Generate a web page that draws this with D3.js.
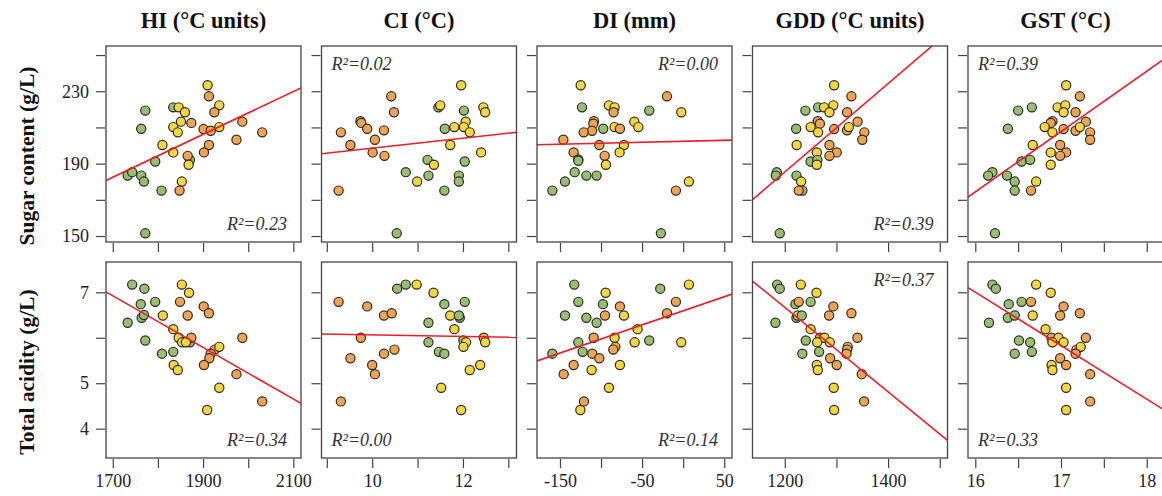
<!DOCTYPE html>
<html>
<head>
<meta charset="utf-8">
<title>Sugar and acidity vs climate indices</title>
<script src="https://cdnjs.cloudflare.com/ajax/libs/d3/7.8.5/d3.min.js"></script>
<style>
body{margin:0;background:#fff}
text{font-family:"Liberation Serif","Times New Roman",serif}
</style>
</head>
<body>
<svg id="chart" width="1162" height="496"></svg>
<script>
// column / row descriptions
var colTitles = ["HI (\u00B0C units)", "CI (\u00B0C)", "DI (mm)", "GDD (\u00B0C units)", "GST (\u00B0C)"]
var rowTitles = ["Sugar content (g/L)", "Total acidity (g/L)"]

var xDomains = [[1685, 2117], [8.883, 13.18], [-178, 59.5], [1137.5, 1515], [15.915, 18.19]]
var xTicks = [[1700, 1800, 1900, 2000, 2100], [9, 10, 11, 12, 13], [-150, -100, -50, 0, 50], [1200, 1300, 1400, 1500], [16, 16.5, 17, 17.5, 18]]
var xTickLabels = [[1700, 1900, 2100], [10, 12], [-150, -50, 50], [1200, 1400], [16, 17, 18]]

var yDomains = [[146.7, 255], [3.355, 7.667]]
var yTicks = [[150, 170, 190, 210, 230, 250], [4, 5, 6, 7]]
var yTickLabels = [[150, 190, 230], [4, 5, 7]]

// group 0 = green, 1 = yellow, 2 = orange
var groupColors = ["#97bf6f", "#f6d640", "#f0a452"]

// [x, y, group]
var hiSugar = [[1910,233.3,1],[1913,227.2,2],[1936,222.2,1],[1834,221.1,0],[1846,221.1,1],[1860,218.4,1],[1925,218.4,2],[1772,219.3,0],[1851,213.2,1],[1874,212.5,2],[1987,213.2,2],[1763,209.3,0],[1834,210.2,1],[1844,207.3,1],[1901,209.1,2],[1917,208.2,2],[1936,210.2,1],[2031,207.3,2],[1974,203.2,2],[1810,200.3,1],[1913,200.3,2],[1834,196.2,1],[1902,196.2,2],[1871,192.1,0],[1866,194.3,2],[1794,191.2,0],[1868,189.4,1],[1733,183.4,0],[1743,185.3,0],[1763,183.4,0],[1769,180.1,0],[1853,180.1,1],[1808,175.1,0],[1848,175.1,2],[1772,151.5,0]]
var ciSugar = [[11.96,233.3,1],[10.42,227.2,2],[11.46,221.1,0],[11.50,222.2,1],[12.45,221.1,1],[12.49,218.4,1],[12.02,219.3,0],[10.48,218.4,2],[9.74,213.4,2],[9.76,212.5,2],[12.06,213.2,1],[9.89,209.3,2],[10.26,208.4,2],[9.31,207.3,2],[11.60,209.3,0],[11.81,210.2,1],[12.02,210.2,1],[12.15,207.3,1],[10.06,203.2,2],[9.52,200.3,2],[11.72,200.3,1],[10.01,196.2,2],[12.40,196.2,1],[10.27,194.3,2],[11.22,192.1,0],[12.04,191.2,0],[11.36,189.4,1],[10.74,185.3,0],[11.24,183.4,0],[11.91,183.4,0],[10.99,180.1,1],[11.91,180.1,0],[9.26,175.1,2],[11.59,175.1,0],[10.54,151.5,0]]
var diSugar = [[-124.8,233.3,1],[-19.7,227.2,2],[-123.2,221.1,0],[-90.4,222.2,1],[-83.5,221.1,1],[-84.7,218.4,2],[-41.3,219.3,0],[-2.3,218.4,1],[-108.6,213.4,2],[-109.4,212.1,2],[-59.5,213.2,1],[-54.6,210.2,1],[-97.3,209.3,0],[-83.5,210.2,1],[-77,209.3,2],[-111,208.2,2],[-121.2,207.3,2],[-145.9,203.2,2],[-102.1,200.3,2],[-72.1,200.3,1],[-133.4,196.2,2],[-77.4,196.2,1],[-95.6,194.3,2],[-127.7,192.3,0],[-127.7,191.6,0],[-94,189.4,1],[-132.1,185.3,0],[-117.9,183.4,0],[-105.4,183.4,0],[-143.9,180.1,0],[7,180.1,1],[-159.3,175.1,0],[-8.8,175.1,2],[-27.1,151.5,0]]
var gddSugar = [[1295.5,233.3,1],[1329,227.2,2],[1294,222.2,1],[1264.5,221.1,0],[1276,221.1,1],[1286.5,218.4,1],[1240,219.3,0],[1320.6,218.4,2],[1264,213.2,1],[1264,213.4,2],[1268,212.1,2],[1341,213.2,2],[1222,209.3,0],[1250,210.2,1],[1264.5,207.3,1],[1295.5,209.1,2],[1320.6,208.4,2],[1324,210.2,1],[1354,207.3,2],[1350,203.2,2],[1223,200.3,1],[1286.5,200.3,2],[1262,196.2,1],[1300.6,196.2,2],[1286.5,194.3,2],[1250,191.2,0],[1263,192.1,0],[1262,189.4,1],[1184.5,185.3,0],[1182.6,183.4,0],[1222.6,183.4,0],[1231.6,180.1,1],[1234,175.1,0],[1227,175.1,2],[1190.3,151.5,0]]
var gstSugar = [[17.06,233.3,1],[17.22,227.2,2],[16.96,221.1,1],[17.05,222.2,1],[16.66,221.1,0],[16.50,219.3,0],[17.03,218.4,1],[17.17,218.4,2],[16.90,213.4,2],[16.88,212.5,2],[17.29,213.2,2],[16.38,209.3,0],[16.81,210.2,1],[16.90,207.3,1],[17.03,209.1,2],[17.17,208.2,2],[17.22,210.2,1],[17.34,207.3,2],[17.34,203.2,2],[16.67,200.3,1],[16.99,200.3,2],[16.88,196.2,1],[17.06,196.2,2],[16.99,194.3,2],[16.54,191.2,0],[16.64,192.1,0],[16.88,189.4,1],[16.20,185.3,0],[16.15,183.4,0],[16.37,183.4,0],[16.71,180.1,1],[16.46,180.1,0],[16.46,175.1,0],[16.65,175.1,2],[16.23,151.5,0]]

var hiAcid = [[1743,7.17,0],[1770,7.08,0],[1853,7.17,1],[1869,6.99,1],[1762,6.74,0],[1794,6.79,0],[1849,6.79,2],[1901.5,6.69,2],[1913,6.54,2],[1733,6.33,0],[1764,6.44,0],[1769,6.50,0],[1811,6.49,1],[1866,6.49,2],[1834,6.19,1],[1871,5.90,0],[1846,6.00,1],[1874,6.00,2],[1853.5,5.90,1],[1862,5.90,1],[1987,6.00,2],[1772,5.94,0],[1809,5.65,0],[1834,5.69,0],[1926,5.74,2],[1936,5.80,1],[1917,5.65,2],[1914,5.55,2],[1902,5.40,2],[1835,5.40,1],[1844,5.29,1],[1974,5.20,2],[1936,4.90,1],[2031,4.60,2],[1909,4.41,1]]
var ciAcid = [[10.55,7.08,0],[10.74,7.17,0],[10.98,7.17,1],[11.35,6.99,1],[9.26,6.79,2],[9.89,6.69,2],[10.26,6.49,2],[10.43,6.54,2],[11.59,6.74,0],[12.04,6.79,0],[11.72,6.49,1],[11.93,6.44,0],[11.91,6.49,0],[11.24,6.33,0],[11.81,6.19,1],[9.75,6.00,2],[11.24,5.90,0],[12.01,5.94,0],[12.07,5.90,1],[12.01,5.80,1],[12.46,6.00,2],[12.49,5.90,1],[9.52,5.55,2],[10.26,5.65,2],[10.49,5.74,2],[11.47,5.69,0],[11.59,5.65,0],[10.00,5.40,2],[10.06,5.20,2],[12.15,5.29,1],[12.38,5.40,1],[11.52,4.90,1],[9.31,4.60,2],[11.96,4.41,1]]
var diAcid = [[-132.6,7.17,0],[-94.4,6.99,1],[-27.9,7.08,0],[7,7.17,1],[-127.7,6.79,0],[-97.7,6.74,0],[-77,6.69,2],[-8.8,6.79,2],[-143.9,6.49,0],[-117.9,6.44,0],[-95.2,6.49,2],[-72.1,6.49,1],[-19.7,6.54,2],[-105.4,6.33,0],[-55.5,6.19,1],[-109,6.00,2],[-83.5,6.00,1],[-127.7,5.90,0],[-59.1,5.90,1],[-41.3,5.94,0],[-2.3,5.90,1],[-82.6,5.80,2],[-85.1,5.74,2],[-159.3,5.65,0],[-122.4,5.69,0],[-110.6,5.65,2],[-102.1,5.55,2],[-133.4,5.40,2],[-77,5.40,1],[-145.5,5.20,2],[-111.5,5.29,1],[-90.4,4.90,1],[-120.8,4.60,2],[-125.2,4.41,1]]
var gddAcid = [[1185.2,7.17,0],[1190.3,7.08,0],[1231,7.17,1],[1261.3,6.99,1],[1220.6,6.74,0],[1227,6.79,2],[1250,6.79,0],[1294,6.69,2],[1285.8,6.49,2],[1329,6.54,2],[1181.9,6.33,0],[1222.6,6.44,0],[1225.2,6.49,1],[1232.9,6.49,0],[1250,6.19,1],[1268,6.00,2],[1276.8,6.00,1],[1262.6,5.90,1],[1287.1,5.90,1],[1240.6,5.94,0],[1340.6,6.00,2],[1321.9,5.80,2],[1320.6,5.74,2],[1319.4,5.65,2],[1234,5.65,0],[1266.5,5.69,0],[1287.7,5.55,2],[1300.6,5.40,2],[1262,5.40,1],[1263.9,5.29,1],[1349,5.20,2],[1294.8,4.90,1],[1353.5,4.60,2],[1295.5,4.41,1]]
var gstAcid = [[16.20,7.17,0],[16.24,7.08,0],[16.71,7.17,1],[16.88,6.99,1],[16.39,6.74,0],[16.54,6.79,0],[16.65,6.79,2],[17.03,6.69,2],[16.99,6.49,2],[17.22,6.54,2],[16.16,6.33,0],[16.38,6.44,0],[16.46,6.49,0],[16.67,6.49,1],[16.82,6.19,1],[16.89,6.00,2],[16.97,6.00,1],[16.90,5.90,1],[17.03,5.90,1],[17.29,6.00,2],[16.51,5.94,0],[16.64,5.90,0],[16.46,5.65,0],[16.66,5.69,0],[17.18,5.74,2],[17.23,5.80,1],[17.17,5.65,2],[16.99,5.55,2],[17.06,5.40,2],[16.89,5.40,1],[16.90,5.29,1],[17.34,5.20,2],[17.06,4.90,1],[17.34,4.60,2],[17.06,4.41,1]]

// fitted lines y = a + b*x
var sugarFits = [[-18.8, 0.1184], [171.04, 2.75], [202.35, 0.0109], [-107.8, 0.2443], [-358.4, 33.3]]
var acidFits = [[16.575, -0.005677], [6.233, -0.017], [6.592, 0.00619], [17.818, -0.009292], [25.82, -1.176]]

var sugarR2 = ["0.23", "0.02", "0.00", "0.39", "0.39"]
var acidR2 = ["0.34", "0.00", "0.14", "0.37", "0.33"]
var sugarR2Corner = ["br", "tl", "tr", "br", "tl"]
var acidR2Corner = ["br", "bl", "br", "tr", "bl"]

var panels = [[hiSugar, ciSugar, diSugar, gddSugar, gstSugar], [hiAcid, ciAcid, diAcid, gddAcid, gstAcid]]
var fits = [sugarFits, acidFits]
var r2 = [sugarR2, acidR2]
var r2Corner = [sugarR2Corner, acidR2Corner]

var left = 106, top0 = 46, PW = 195, PH = 196, GX = 20.5, GY = 20

var svg = d3.select("#chart")

for (var r = 0; r < 2; r++) {
  for (var c = 0; c < 5; c++) {
    var x0 = left + c * (PW + GX)
    var y0 = top0 + r * (PH + GY)
    var g = svg.append("g").attr("transform", "translate(" + x0 + "," + y0 + ")")

    var x = d3.scaleLinear().domain(xDomains[c]).range([0, PW])
    var y = d3.scaleLinear().domain(yDomains[r]).range([PH, 0])

    var clipId = "clip" + r + c
    g.append("clipPath").attr("id", clipId)
      .append("rect").attr("width", PW).attr("height", PH)

    var rr = r, cc = c
    var yAx = g.append("g").attr("transform", "translate(-1,0)")
      .call(d3.axisLeft(y).tickValues(yTicks[r]).tickSize(9).tickSizeOuter(0).tickPadding(7)
        .tickFormat(function (d) { return (cc === 0 && yTickLabels[rr].indexOf(d) >= 0) ? d : "" }))
    var xAx = g.append("g").attr("transform", "translate(0," + (PH + 1) + ")")
      .call(d3.axisBottom(x).tickValues(xTicks[c]).tickSize(9).tickSizeOuter(0).tickPadding(6)
        .tickFormat(function (d) { return (rr === 1 && xTickLabels[cc].indexOf(d) >= 0) ? d : "" }))
    ;[yAx, xAx].forEach(function (ax) {
      ax.select(".domain").remove()
      ax.selectAll("line").attr("stroke", "#444").attr("stroke-width", 1.2)
      ax.selectAll("text").attr("font-size", 18).attr("fill", "#222")
        .attr("font-family", "'Liberation Serif','Times New Roman',serif")
    })

    var pts = g.append("g").attr("clip-path", "url(#" + clipId + ")")
    pts.selectAll("circle").data(panels[r][c]).enter().append("circle")
      .attr("cx", function (d) { return x(d[0]) })
      .attr("cy", function (d) { return y(d[1]) })
      .attr("r", 4.6)
      .attr("fill", function (d) { return groupColors[d[2]] })
      .attr("stroke", "#2a2a2a")
      .attr("stroke-width", 1.2)

    var f = fits[r][c]
    var dom = xDomains[c]
    pts.append("line")
      .attr("x1", x(dom[0])).attr("y1", y(f[0] + f[1] * dom[0]))
      .attr("x2", x(dom[1])).attr("y2", y(f[0] + f[1] * dom[1]))
      .attr("stroke", "#e8202a").attr("stroke-width", 1.6)

    g.append("rect").attr("width", PW).attr("height", PH)
      .attr("fill", "none").attr("stroke", "#444").attr("stroke-width", 1.3)

    var corner = r2Corner[r][c]
    var tx = corner[1] === "l" ? 10 : PW - 14
    var ty = corner[0] === "t" ? 24 : PH - 12
    g.append("text")
      .attr("x", tx).attr("y", ty)
      .attr("text-anchor", corner[1] === "l" ? "start" : "end")
      .attr("font-style", "italic").attr("font-size", 18).attr("fill", "#333")
      .text("R\u00B2=" + r2[r][c])
  }
}

// column titles
svg.selectAll(".coltitle").data(colTitles).enter().append("text")
  .attr("class", "coltitle")
  .attr("x", function (d, i) { return left + i * (PW + GX) + PW / 2 })
  .attr("y", 28)
  .attr("text-anchor", "middle")
  .attr("font-weight", "bold").attr("font-size", 22.5).attr("fill", "#111")
  .text(function (d) { return d })

// row titles
svg.selectAll(".rowtitle").data(rowTitles).enter().append("text")
  .attr("class", "rowtitle")
  .attr("transform", function (d, i) { return "translate(34," + (top0 + i * (PH + GY) + PH / 2 + 12) + ") rotate(-90)" })
  .attr("text-anchor", "middle")
  .attr("font-weight", "bold").attr("font-size", 21.5).attr("fill", "#111")
  .text(function (d) { return d })
</script>
</body>
</html>
